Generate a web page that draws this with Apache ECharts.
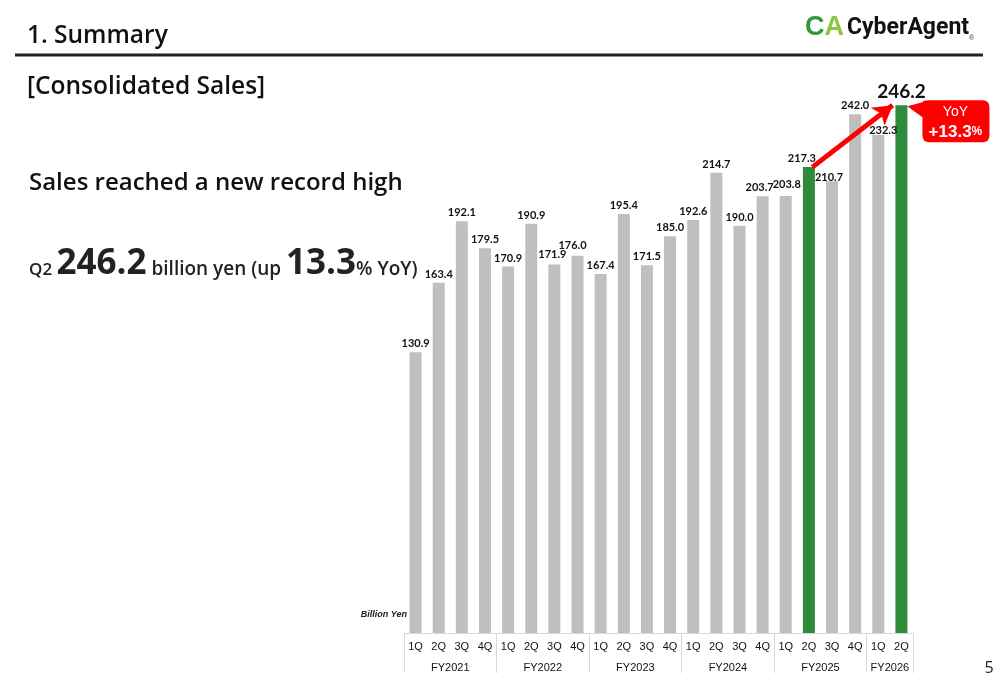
<!DOCTYPE html>
<html>
<head>
<meta charset="utf-8">
<script src="https://cdn.jsdelivr.net/npm/echarts@6/dist/echarts.min.js"></script>
<style>
  html, body { margin: 0; padding: 0; background: #fff; }
  #chart { width: 1000px; height: 685px; }
</style>
</head>
<body>
<div id="chart"></div>
<script>
// quarterly consolidated sales, billion yen
const quarters = [
  '1Q', '2Q', '3Q', '4Q', '1Q', '2Q', '3Q', '4Q', '1Q', '2Q', '3Q', '4Q',
  '1Q', '2Q', '3Q', '4Q', '1Q', '2Q', '3Q', '4Q', '1Q', '2Q',
]
const fiscalYears = ['FY2021', 'FY2022', 'FY2023', 'FY2024', 'FY2025', 'FY2026']
const quartersPerYear = [4, 4, 4, 4, 4, 2]
const sales = [
  130.9, 163.4, 192.1, 179.5,
  170.9, 190.9, 171.9, 176.0,
  167.4, 195.4, 171.5, 185.0,
  192.6, 214.7, 190.0, 203.7,
  203.8, 217.3, 210.7, 242.0,
  232.3, 246.2,
]
const prevYearIdx = 17 // FY2025 2Q
const latestIdx = 21 // FY2026 2Q
const yoyText = '+13.3'

const GRAY = '#bfbfbf'
const GREEN = '#2e8b3c'
const RED = '#ff0000'
const HEAD_FONT = '"Open Sans", "Noto Sans", sans-serif'

// where each fiscal year starts / is centered on the quarter axis
const yearStarts = []
const fyAt = {}
let acc = 0
fiscalYears.forEach((fy, i) => {
  yearStarts.push(acc)
  fyAt[acc + quartersPerYear[i] / 2] = fy
  acc += quartersPerYear[i]
})

// small label nudges where the slide moved them
const labelNudge = {
  6: [-2, -1],
  7: [-5, -2],
  15: [-3, 0],
  16: [1, -3],
  17: [-7, 0],
  18: [-3, 5],
  20: [5, 4],
}

const barData = sales.map((v, i) => {
  const item = { value: v }
  if (labelNudge[i]) item.label = { offset: labelNudge[i] }
  if (i === latestIdx) item.label = { fontSize: 19, distance: 4 }
  return item
})

const chart = echarts.init(document.getElementById('chart'))

chart.setOption({
  animation: false,
  backgroundColor: '#fff',
  grid: {
    left: 404,
    right: 87,
    top: 97,
    bottom: 52,
    containLabel: false,
    outerBoundsMode: 'none',
  },
  xAxis: [
    {
      type: 'category',
      data: quarters,
      position: 'bottom',
      axisLine: { show: true, lineStyle: { color: '#d9d9d9', width: 1 } },
      axisTick: {
        show: true,
        interval: (i) => yearStarts.includes(i),
        length: 40,
        lineStyle: { color: '#d9d9d9', width: 1 },
      },
      axisLabel: {
        interval: 0,
        margin: 8,
        fontFamily: 'Liberation Sans',
        fontSize: 11,
        color: '#111',
      },
    },
    {
      type: 'value',
      min: 0,
      max: quarters.length,
      interval: 1,
      position: 'bottom',
      offset: 20,
      axisLine: { show: false },
      axisTick: { show: false },
      splitLine: { show: false },
      axisLabel: {
        margin: 9,
        fontFamily: 'Liberation Sans',
        fontSize: 11,
        color: '#111',
        formatter: (v) => fyAt[v] || '',
      },
    },
  ],
  yAxis: {
    type: 'value',
    min: 0,
    max: 250,
    axisLine: { show: false },
    axisTick: { show: false },
    axisLabel: { show: false },
    splitLine: { show: false },
    name: 'Billion Yen',
    nameLocation: 'start',
    nameGap: -18,
    nameTextStyle: {
      align: 'right',
      verticalAlign: 'middle',
      padding: [0, -3, 0, 0],
      fontFamily: 'Liberation Sans',
      fontStyle: 'italic',
      fontWeight: 'bold',
      fontSize: 9,
      color: '#222',
    },
  },
  series: [
    {
      type: 'bar',
      data: barData,
      barWidth: 12,
      itemStyle: {
        color: (p) => (p.dataIndex === prevYearIdx || p.dataIndex === latestIdx ? GREEN : GRAY),
      },
      label: {
        show: true,
        position: 'top',
        distance: 3,
        fontFamily: 'Lato',
        fontWeight: 'bold',
        fontSize: 11,
        color: '#111',
        formatter: (p) => p.value.toFixed(1),
      },
      emphasis: { disabled: true },
      markPoint: {
        silent: true,
        symbol: 'path://M0,6 L15,2 Q15,0 22,0 L75,0 Q82,0 82,7 L82,35 Q82,42 75,42 L22,42 Q15,42 15,35 L15,17 Z',
        symbolSize: [82, 42],
        symbolKeepAspect: false,
        symbolOffset: [47, 16],
        itemStyle: { color: RED },
        label: {
          show: true,
          position: 'inside',
          offset: [7, 1],
          formatter: '{a|YoY}\n{b|' + yoyText + '}{c|%}',
          rich: {
            a: { color: '#fff', fontFamily: 'Liberation Sans', fontSize: 14, lineHeight: 20 },
            b: { color: '#fff', fontFamily: 'Liberation Sans', fontSize: 17, fontWeight: 'bold', lineHeight: 21 },
            c: { color: '#fff', fontFamily: 'Liberation Sans', fontSize: 12, fontWeight: 'bold', lineHeight: 21 },
          },
        },
        data: [{ coord: [latestIdx, sales[latestIdx]] }],
      },
    },
    {
      // carries the red arrow, placed on the linear helper axis
      type: 'line',
      xAxisIndex: 1,
      data: [],
      markLine: {
        silent: true,
        symbol: ['none', 'arrow'],
        symbolSize: [17, 19],
        lineStyle: { color: RED, width: 5, type: 'solid' },
        label: { show: false },
        emphasis: { disabled: true },
        data: [[
          { coord: [prevYearIdx + 0.65, sales[prevYearIdx]] },
          { coord: [latestIdx + 0.12, sales[latestIdx]] },
        ]],
      },
    },
  ],
  graphic: [
    {
      type: 'text', x: 27, y: 36,
      style: { text: '1. Summary', fontFamily: HEAD_FONT, fontWeight: 600, fontSize: 24.5, fill: '#111', verticalAlign: 'middle' },
    },
    {
      type: 'line',
      shape: { x1: 15, y1: 55, x2: 983, y2: 55 },
      style: { stroke: '#222', lineWidth: 3 },
    },
    {
      type: 'text', x: 805, y: 28,
      style: {
        text: '{c|C}{a|A}{t|CyberAgent}{r|®}',
        verticalAlign: 'middle',
        rich: {
          c: { fill: '#2e9a3a', fontFamily: 'Liberation Sans', fontWeight: 'bold', fontSize: 27 },
          a: { fill: '#8cc63e', fontFamily: 'Liberation Sans', fontWeight: 'bold', fontSize: 27 },
          t: { fill: '#111', fontFamily: 'Roboto', fontWeight: 'bold', fontSize: 23, padding: [0, 0, 0, 3] },
          r: { fill: '#333', fontSize: 7, verticalAlign: 'bottom' },
        },
      },
    },
    {
      type: 'text', x: 27, y: 87,
      style: { text: '[Consolidated Sales]', fontFamily: HEAD_FONT, fontWeight: 600, fontSize: 24.5, fill: '#111', verticalAlign: 'middle' },
    },
    {
      type: 'text', x: 29, y: 183,
      style: { text: 'Sales reached a new record high', fontFamily: HEAD_FONT, fontWeight: 600, fontSize: 24, fill: '#111', verticalAlign: 'middle' },
    },
    {
      type: 'text', x: 29, y: 282,
      style: {
        text: '{q|Q2 }{big|246.2}{t| billion yen (up }{big|13.3}{t|% YoY)}',
        verticalAlign: 'bottom',
        rich: {
          q: { fill: '#222', fontFamily: HEAD_FONT, fontWeight: 600, fontSize: 17, lineHeight: 17, verticalAlign: 'bottom', padding: [0, 0, 3, 0] },
          big: { fill: '#222', fontFamily: HEAD_FONT, fontWeight: 'bold', fontSize: 35, lineHeight: 35, verticalAlign: 'bottom' },
          t: { fill: '#222', fontFamily: HEAD_FONT, fontWeight: 600, fontSize: 19, lineHeight: 19, verticalAlign: 'bottom', padding: [0, 0, 3, 0] },
        },
      },
    },
    {
      type: 'text', x: 989, y: 668,
      style: { text: '5', fontFamily: HEAD_FONT, fontSize: 16, fill: '#222', align: 'center', verticalAlign: 'middle' },
    },
  ],
})
</script>
</body>
</html>
